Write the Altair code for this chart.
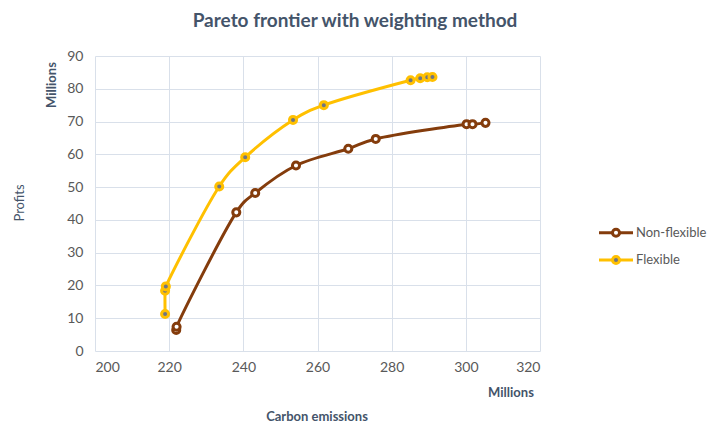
import altair as alt
import pandas as pd

# Carbon emissions (millions) and profits (millions) along each Pareto frontier
nonflex_emissions = [221.9, 222.0, 238.1, 243.2, 254.2, 268.3, 275.7, 300.2, 301.8, 305.3]
nonflex_profits = [6.4, 7.4, 42.3, 48.2, 56.6, 61.7, 64.7, 69.2, 69.2, 69.6]

flex_emissions = [218.9, 218.9, 219.1, 233.5, 240.5, 253.4, 261.7, 285.1, 287.7, 289.6, 291.0]
flex_profits = [11.3, 18.4, 19.7, 50.2, 59.1, 70.5, 75.0, 82.6, 83.2, 83.5, 83.6]

series_names = ["Non-flexible", "Flexible"]
x_ticks = [200, 220, 240, 260, 280, 300, 320]
y_ticks = [0, 10, 20, 30, 40, 50, 60, 70, 80, 90]

title_text = "Pareto frontier with weighting method"
x_title = "Carbon emissions"
y_title = "Profits"
unit_text = "Millions"

BROWN = "#843C0C"
GOLD = "#FFC000"
DOT = "#6F7584"
TEXT = "#44546A"
LABEL = "#595959"
GRID = "#D9E0EA"
FONT = "Lato"

nonflex = pd.DataFrame({"emissions": nonflex_emissions, "profits": nonflex_profits,
                        "idx": range(len(nonflex_emissions))})
flex = pd.DataFrame({"emissions": flex_emissions, "profits": flex_profits,
                     "idx": range(len(flex_emissions))})

x_enc = alt.X("emissions:Q",
              scale=alt.Scale(domain=[200, 320], nice=False, zero=False),
              axis=alt.Axis(values=x_ticks, title=None, domain=False, ticks=False,
                            labelFontSize=14, labelColor=LABEL, labelFont=FONT,
                            labelPadding=9, gridColor=GRID, gridWidth=1))
y_enc = alt.Y("profits:Q",
              scale=alt.Scale(domain=[0, 90], nice=False),
              axis=alt.Axis(values=y_ticks, title=None, domain=False, ticks=False,
                            labelFontSize=14, labelColor=LABEL, labelFont=FONT,
                            labelPadding=12, gridColor=GRID, gridWidth=1))


def curve(df, color):
    # smoothed line through every point (catmull-rom, alpha set via tension)
    return alt.Chart(df).mark_line(color=color, strokeWidth=3,
                                   interpolate="catmull-rom", tension=0.3).encode(
        x=x_enc, y=y_enc, order="idx:Q")


def dots(df, fill, stroke):
    return alt.Chart(df).mark_point(shape="circle", filled=True, fill=fill,
                                    stroke=stroke, strokeWidth=3, size=50,
                                    opacity=1).encode(x=x_enc, y=y_enc, order="idx:Q")


def label(text, x, y, size=13, weight="bold", color=TEXT, angle=0, align="center"):
    return alt.Chart(pd.DataFrame({"t": [text]})).mark_text(
        font=FONT, fontSize=size, fontWeight=weight, color=color, angle=angle,
        align=align, baseline="middle").encode(
        x=alt.value(x), y=alt.value(y), text="t:N")


def legend_entry(name, y, color, fill):
    data = pd.DataFrame({"t": [name]})
    line = alt.Chart(data).mark_rule(color=color, strokeWidth=3).encode(
        x=alt.value(504), x2=alt.value(538), y=alt.value(y))
    marker = alt.Chart(data).mark_point(shape="circle", filled=True, fill=fill,
                                        stroke=color, strokeWidth=3, size=50,
                                        opacity=1).encode(
        x=alt.value(521), y=alt.value(y))
    text = alt.Chart(data).mark_text(font=FONT, fontSize=13, color=LABEL,
                                     align="left", baseline="middle").encode(
        x=alt.value(541), y=alt.value(y), text="t:N")
    return line + marker + text


chart = alt.layer(
    curve(flex, GOLD),
    curve(nonflex, BROWN),
    dots(flex, DOT, GOLD),
    dots(nonflex, "white", BROWN),
    label(title_text, 260, -35, size=19),
    label(unit_text, -43, 29, size=13, angle=270),
    label(y_title, -75, 147, size=13, weight="normal", angle=270),
    label(unit_text, 416, 337, size=13),
    label(x_title, 222, 361, size=13),
    legend_entry(series_names[0], 176.7, BROWN, "white"),
    legend_entry(series_names[1], 204, GOLD, DOT),
).properties(
    width=445, height=295,
    autosize=alt.AutoSizeParams(type="none"),
    padding={"left": 95, "top": 56, "right": 169, "bottom": 81},
    background="white",
).configure_view(stroke=None)

chart.save("out.html", embed_options={"renderer": "svg", "actions": False})
